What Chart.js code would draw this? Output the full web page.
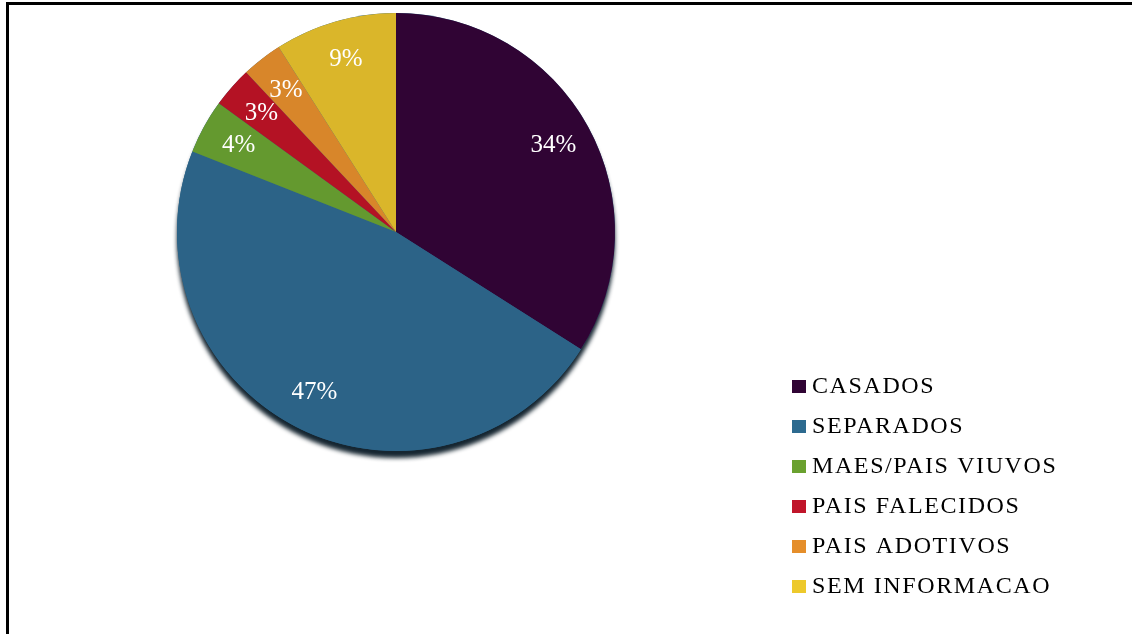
<!DOCTYPE html>
<html>
<head>
<meta charset="utf-8">
<script src="https://cdn.jsdelivr.net/npm/chart.js@4.4.1/dist/chart.umd.min.js"></script>
<style>
    html, body { margin: 0; padding: 0; background: #fff; }
    #wrap { position: relative; width: 1132px; height: 634px; }
    #frame {
        position: absolute; left: 6px; top: 2px; right: 0; bottom: 0;
        border-left: 3px solid #000; border-top: 3px solid #000;
        pointer-events: none;
    }
    canvas { position: absolute; left: 0; top: 0; }
</style>
</head>
<body>
<div id="wrap">
    <canvas id="pieChart" width="1132" height="634"></canvas>
    <div id="frame"></div>
</div>
<script>
const categories = ["CASADOS", "SEPARADOS", "MAES/PAIS VIUVOS", "PAIS FALECIDOS", "PAIS ADOTIVOS", "SEM INFORMACAO"];
const percentValues = [34, 47, 4, 3, 3, 9];
const sliceColors = ["#300434", "#2C6387", "#64992F", "#B41224", "#D8862A", "#DAB62A"];
const legendColors = ["#300434", "#2C6A8F", "#6AA12F", "#C0152A", "#E58E2A", "#EDC92B"];

const SERIF = '"Liberation Serif", "Times New Roman", serif';

// dark drop shadow under the pie (bottom edge)
const pieShadow = {
    id: "pieShadow",
    beforeDatasetsDraw(chart) {
        const arc = chart.getDatasetMeta(0).data[0];
        if (!arc) return;
        const ctx = chart.ctx;
        ctx.save();
        ctx.shadowColor = "rgba(10, 26, 38, 0.95)";
        ctx.shadowOffsetY = 7;
        ctx.shadowBlur = 4;
        ctx.fillStyle = "#2C6387";
        ctx.beginPath();
        ctx.arc(arc.x, arc.y, arc.outerRadius, 0, Math.PI * 2);
        ctx.fill();
        ctx.restore();
    }
};

// percent labels inside the slices
const sliceLabels = {
    id: "sliceLabels",
    afterDatasetsDraw(chart) {
        const ctx = chart.ctx;
        const meta = chart.getDatasetMeta(0);
        ctx.save();
        ctx.font = "25px " + SERIF;
        ctx.fillStyle = "#ffffff";
        ctx.textAlign = "center";
        ctx.textBaseline = "middle";
        meta.data.forEach(function (arc, i) {
            const mid = (arc.startAngle + arc.endAngle) / 2;
            const r = arc.outerRadius * 0.82;
            const x = arc.x + Math.cos(mid) * r;
            const y = arc.y + Math.sin(mid) * r;
            ctx.fillText(percentValues[i] + "%", x, y);
        });
        ctx.restore();
    }
};

// legend at lower right
const sideLegend = {
    id: "sideLegend",
    afterDraw(chart) {
        const ctx = chart.ctx;
        const left = 792;
        const top = 386;
        const rowGap = 40;
        ctx.save();
        ctx.font = "24px " + SERIF;
        ctx.letterSpacing = "1.6px";
        ctx.textBaseline = "middle";
        ctx.textAlign = "left";
        categories.forEach(function (label, i) {
            const y = top + i * rowGap;
            ctx.fillStyle = legendColors[i];
            ctx.fillRect(left, y - 6, 14, 13);
            ctx.fillStyle = "#000000";
            ctx.fillText(label, left + 20, y + 1);
        });
        ctx.restore();
    }
};

new Chart(document.getElementById("pieChart"), {
    type: "pie",
    data: {
        labels: categories,
        datasets: [
            {
                data: percentValues,
                backgroundColor: sliceColors,
                borderWidth: 0,
                hoverOffset: 0,
            },
        ],
    },
    options: {
        responsive: false,
        animation: false,
        layout: {
            padding: { left: 177, top: 13, right: 517, bottom: 183 },
        },
        plugins: {
            legend: { display: false },
            tooltip: { enabled: false },
        },
    },
    plugins: [pieShadow, sliceLabels, sideLegend],
});
</script>
</body>
</html>
